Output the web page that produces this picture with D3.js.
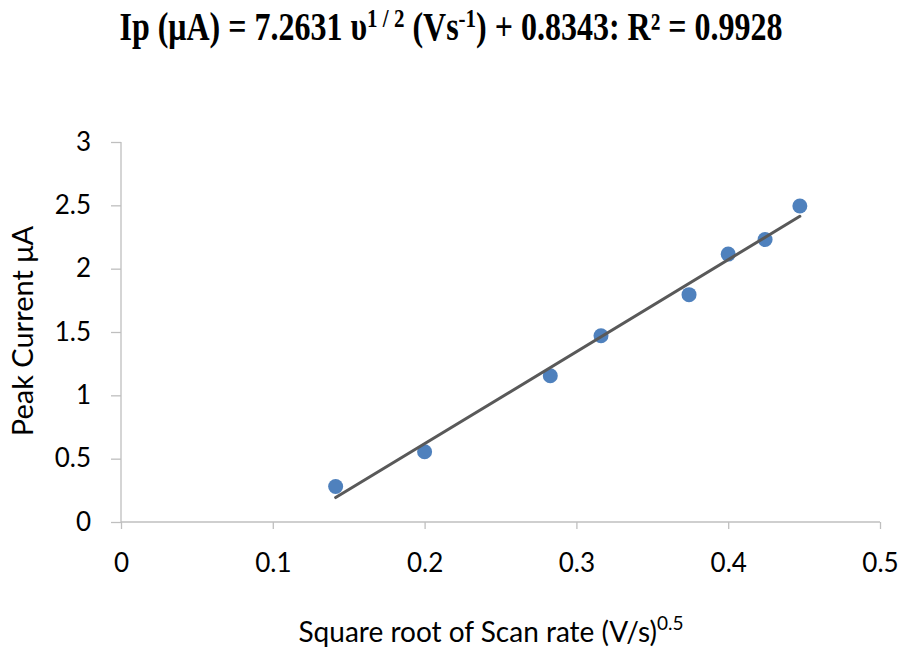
<!DOCTYPE html>
<html>
<head>
<meta charset="utf-8">
<script src="https://cdn.jsdelivr.net/npm/d3@7"></script>
<style>
  body { margin: 0; background: #fff; }
  svg { display: block; }
</style>
</head>
<body>
<div id="chart"></div>
<script>
// values
const scanRoot = [0.1414, 0.2, 0.2828, 0.3162, 0.3742, 0.4, 0.4243, 0.4472];
const peakCurrent = [0.28, 0.555, 1.155, 1.47, 1.795, 2.115, 2.23, 2.495];
const fitSlope = 7.2631, fitIntercept = -0.8343;
const xTicks = [0, 0.1, 0.2, 0.3, 0.4, 0.5];
const yTicks = [0, 0.5, 1, 1.5, 2, 2.5, 3];

const width = 903, height = 649;
const svg = d3.select("#chart").append("svg")
    .attr("width", width)
    .attr("height", height);

const x = d3.scaleLinear().domain([0, 0.5]).range([121, 880]);
const y = d3.scaleLinear().domain([0, 3]).range([522, 142]);

const labelFont = "Lato, 'Open Sans', sans-serif";
const grey = "#bfbfbf";

// title (the original is stretched vertically)
const title = svg.append("text")
    .attr("transform", "translate(451,40) scale(1,1.22)")
    .attr("text-anchor", "middle")
    .style("font", "bold 32px 'Liberation Serif', 'Times New Roman', serif")
    .attr("fill", "#000");
title.append("tspan").text("Ip (μA) = 7.2631 υ");
title.append("tspan").attr("dy", -11).style("font-size", "21px").text("1 / 2");
title.append("tspan").attr("dy", 11).text(" (Vs");
title.append("tspan").attr("dy", -11).style("font-size", "21px").text("-1");
title.append("tspan").attr("dy", 11).text(") + 0.8343: R² = 0.9928");

// axes
const xAxis = svg.append("g")
    .attr("transform", `translate(0,${y(0)})`)
    .call(d3.axisBottom(x).tickValues(xTicks).tickSize(7).tickPadding(25).tickFormat(d3.format("")));
const yAxis = svg.append("g")
    .attr("transform", `translate(${x(0)},0)`)
    .call(d3.axisLeft(y).tickValues(yTicks).tickSize(10).tickPadding(20).tickFormat(d3.format("")));

[xAxis, yAxis].forEach(g => {
  g.select(".domain").attr("stroke", grey).attr("stroke-width", 1.3);
  g.selectAll(".tick line").attr("stroke", grey).attr("stroke-width", 1.3);
  g.selectAll(".tick text")
      .style("font", `26px ${labelFont}`)
      .attr("fill", "#000");
});
xAxis.select(".domain").attr("d", `M${x(0)},0H${x(0.5)}`);
yAxis.select(".domain").attr("d", `M0,${y(3)}V${y(0)}`);

// points
svg.append("g")
    .selectAll("circle")
    .data(scanRoot.map((v, i) => [v, peakCurrent[i]]))
    .enter().append("circle")
      .attr("cx", d => x(d[0]))
      .attr("cy", d => y(d[1]))
      .attr("r", 7.5)
      .attr("fill", "#4f81bd");

// linear trendline
const xMin = d3.min(scanRoot), xMax = d3.max(scanRoot);
svg.append("line")
    .attr("x1", x(xMin))
    .attr("y1", y(fitSlope * xMin + fitIntercept))
    .attr("x2", x(xMax))
    .attr("y2", y(fitSlope * xMax + fitIntercept))
    .attr("stroke", "#595959")
    .attr("stroke-width", 3)
    .attr("stroke-linecap", "round");

// axis titles
svg.append("text")
    .attr("transform", "translate(33,331) rotate(-90)")
    .attr("text-anchor", "middle")
    .style("font", `29px ${labelFont}`)
    .text("Peak Current μA");

const xt = svg.append("text")
    .attr("x", 491)
    .attr("y", 642)
    .attr("text-anchor", "middle")
    .style("font", `28px ${labelFont}`);
xt.append("tspan").text("Square root of Scan rate (V/s)");
xt.append("tspan").attr("dy", -12).style("font-size", "19px").text("0.5");
</script>
</body>
</html>
